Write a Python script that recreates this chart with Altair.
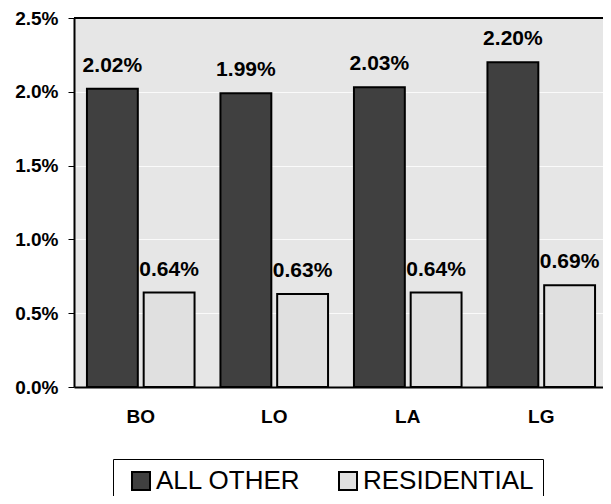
import altair as alt
import pandas as pd

categories = ["BO", "LO", "LA", "LG"]
series = ["ALL OTHER", "RESIDENTIAL"]
all_other = [0.0202, 0.0199, 0.0203, 0.0220]
residential = [0.0064, 0.0063, 0.0064, 0.0069]
y_ticks = [0.0, 0.005, 0.01, 0.015, 0.02, 0.025]
y_max = [0.025]
colors = ["#404040", "#e0e0e0"]

rows = []
for c, a, r in zip(categories, all_other, residential):
    rows.append({"cat": c, "series": series[0], "value": a})
    rows.append({"cat": c, "series": series[1], "value": r})
df = pd.DataFrame(rows)
top_df = pd.DataFrame({"value": y_max})

FONT = "Liberation Sans, Arial, sans-serif"

x = alt.X(
    "cat:N", sort=categories, title=None,
    scale=alt.Scale(range=[0, 534], paddingInner=0.194, paddingOuter=0.097),
    axis=alt.Axis(labelAngle=0, labelFont=FONT, labelFontSize=19, labelFontWeight="bold",
                  labelColor="black", ticks=False, domain=True, domainColor="black",
                  domainWidth=2, labelPadding=20),
)
xo = alt.XOffset("series:N", sort=series, scale=alt.Scale(paddingInner=0.1034, paddingOuter=0))
yscale = alt.Scale(domain=[0, 0.025], nice=False)
y = alt.Y(
    "value:Q", title=None, scale=yscale,
    axis=alt.Axis(values=y_ticks, format=".1%", labelFont=FONT, labelFontSize=19,
                  labelFontWeight="bold", labelColor="black", grid=True, gridColor="white",
                  gridOpacity=0.8, gridWidth=1, tickColor="black", tickSize=6, tickWidth=1,
                  domain=True, domainColor="black", domainWidth=2, labelPadding=10),
)

bars = alt.Chart(df).mark_bar(stroke="black", strokeWidth=2).encode(
    x=x, xOffset=xo, y=y,
    color=alt.Color(
        "series:N", sort=series,
        scale=alt.Scale(domain=series, range=colors),
        legend=alt.Legend(
            orient="none", legendX=39, legendY=441, direction="horizontal", title=None,
            strokeColor="black", fillColor="white", padding=9, symbolOffset=6,
            symbolType="square", symbolSize=324, symbolStrokeWidth=2,
            symbolStrokeColor="black", labelFont=FONT, labelFontSize=26,
            labelColor="black", labelOffset=2, columnPadding=28, labelLimit=400,
        ),
    ),
)

labels = alt.Chart(df).mark_text(
    font=FONT, fontSize=21, fontWeight="bold", dy=-17, baseline="alphabetic", color="black"
).encode(x=x, xOffset=xo, y=y, text=alt.Text("value:Q", format=".2%"))

top_line = alt.Chart(top_df).mark_rule(color="black", strokeWidth=2).encode(
    y=alt.Y("value:Q", scale=yscale)
)

chart = alt.layer(bars, labels, top_line).properties(
    width=529, height=369,
    padding={"left": 66, "top": 10, "right": 0, "bottom": 109},
    autosize=alt.AutoSizeParams(type="none"),
    background="white",
).configure_view(stroke=None, fill="#e6e6e6")

chart.save("out.html", embed_options={"renderer": "svg", "actions": False})
